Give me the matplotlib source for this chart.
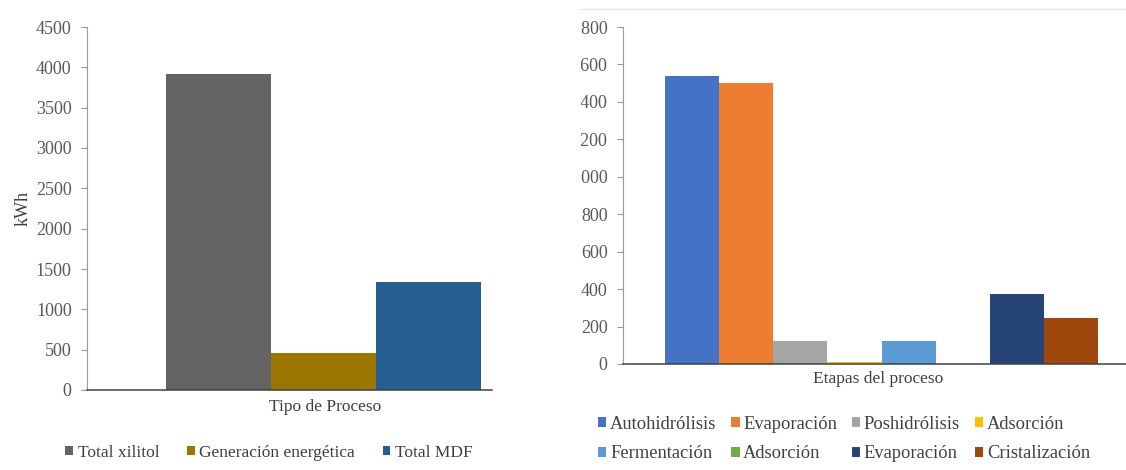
import matplotlib
matplotlib.use('Agg')
import matplotlib.pyplot as plt
from matplotlib.lines import Line2D
from matplotlib.transforms import Bbox, TransformedBbox

# datos - izquierda (kWh por tipo de proceso)
procesos = ['Total xilitol', 'Generación energética', 'Total MDF']
kwh_proceso = [3920, 460, 1340]
col_proceso = ['#636363', '#9c7700', '#255e91']

# datos - derecha (kWh por etapa)
etapas = ['Autohidrólisis', 'Evaporación', 'Poshidrólisis', 'Adsorción',
          'Fermentación', 'Adsorción', 'Evaporación', 'Cristalización']
kwh_etapa = [1538, 1500, 123, 12, 123, 2, 374, 246]
col_etapa = ['#4472c4', '#ed7d31', '#a5a5a5', '#ffc000',
             '#5b9bd5', '#70ad47', '#264478', '#9e480e']

W, H = 1126, 470
plt.rcParams['font.family'] = 'serif'
plt.rcParams['font.serif'] = ['Liberation Serif', 'Times New Roman', 'DejaVu Serif']
plt.rcParams['font.size'] = 12

fig = plt.figure(figsize=(W / 100, H / 100), dpi=100)
fig.patch.set_facecolor('white')

def estilo(ax):
    ax.spines['top'].set_visible(False)
    ax.spines['right'].set_visible(False)
    ax.spines['left'].set_color('#9a9a9a')
    ax.spines['bottom'].set_color('#404040')
    ax.spines['bottom'].set_linewidth(1.1)
    ax.tick_params(axis='y', direction='out', length=4, color='#9a9a9a',
                   labelcolor='#595959', labelsize=13, pad=7)
    ax.tick_params(axis='x', length=0, labelbottom=False)

# ---- grafico izquierdo
ax1 = fig.add_axes([87 / W, 1 - 390 / H, 405 / W, 363 / H])
x1 = [-1, 0, 1]
b1 = ax1.bar(x1, kwh_proceso, width=1.0, color=col_proceso)
ax1.set_xlim(-2.257, 1.6)
ax1.set_ylim(0, 4500)
ax1.set_yticks(range(0, 4501, 500))
estilo(ax1)
ax1.set_ylabel('kWh', color='#404040', fontsize=13, labelpad=3)
fig.text(325 / W, 1 - 407 / H, 'Tipo de Proceso', ha='center', va='center',
         color='#404040', fontsize=12.5)
ax1.legend(b1, procesos, loc='center', bbox_to_anchor=(269 / W, 1 - 453 / H),
           bbox_transform=fig.transFigure, ncol=3, frameon=False,
           handlelength=0.45, handleheight=0.45, handletextpad=0.25,
           columnspacing=1.6, fontsize=12.5, labelcolor='#404040')

# ---- grafico derecho
ax2 = fig.add_axes([623 / W, 1 - 364 / H, 516 / W, 337 / H])
x2 = [i - 3.5 for i in range(len(etapas))]
b2 = ax2.bar(x2, kwh_etapa, width=1.0, color=col_etapa)
ax2.set_xlim(-4.78, 4.76)
ax2.set_ylim(0, 1800)
ax2.set_yticks(range(0, 1801, 200))
estilo(ax2)
fig.text(878 / W, 1 - 379 / H, 'Etapas del proceso', ha='center', va='center',
         color='#404040', fontsize=12.5)

# la imagen original esta recortada por la izquierda
clip = TransformedBbox(Bbox([[581 / W, 0], [1, 1]]), fig.transFigure)
for t in ax2.yaxis.get_major_ticks():
    t.label1.set_clip_box(clip)
    t.label1.set_clip_on(True)

orden = [0, 4, 1, 5, 2, 6, 3, 7]
ax2.legend([b2[i] for i in orden], [etapas[i] for i in orden], loc='center',
           bbox_to_anchor=(844 / W, 1 - 439 / H), bbox_transform=fig.transFigure,
           ncol=4, frameon=False, handlelength=0.45, handleheight=0.45,
           handletextpad=0.2, columnspacing=0.8, labelspacing=0.7,
           fontsize=13.3, labelcolor='#404040')

# borde tenue del recuadro derecho
fig.add_artist(Line2D([580 / W, 1], [1 - 9 / H, 1 - 9 / H], color='#e6e6e6', lw=1))

fig.savefig('out.png', dpi=100, facecolor='white')
